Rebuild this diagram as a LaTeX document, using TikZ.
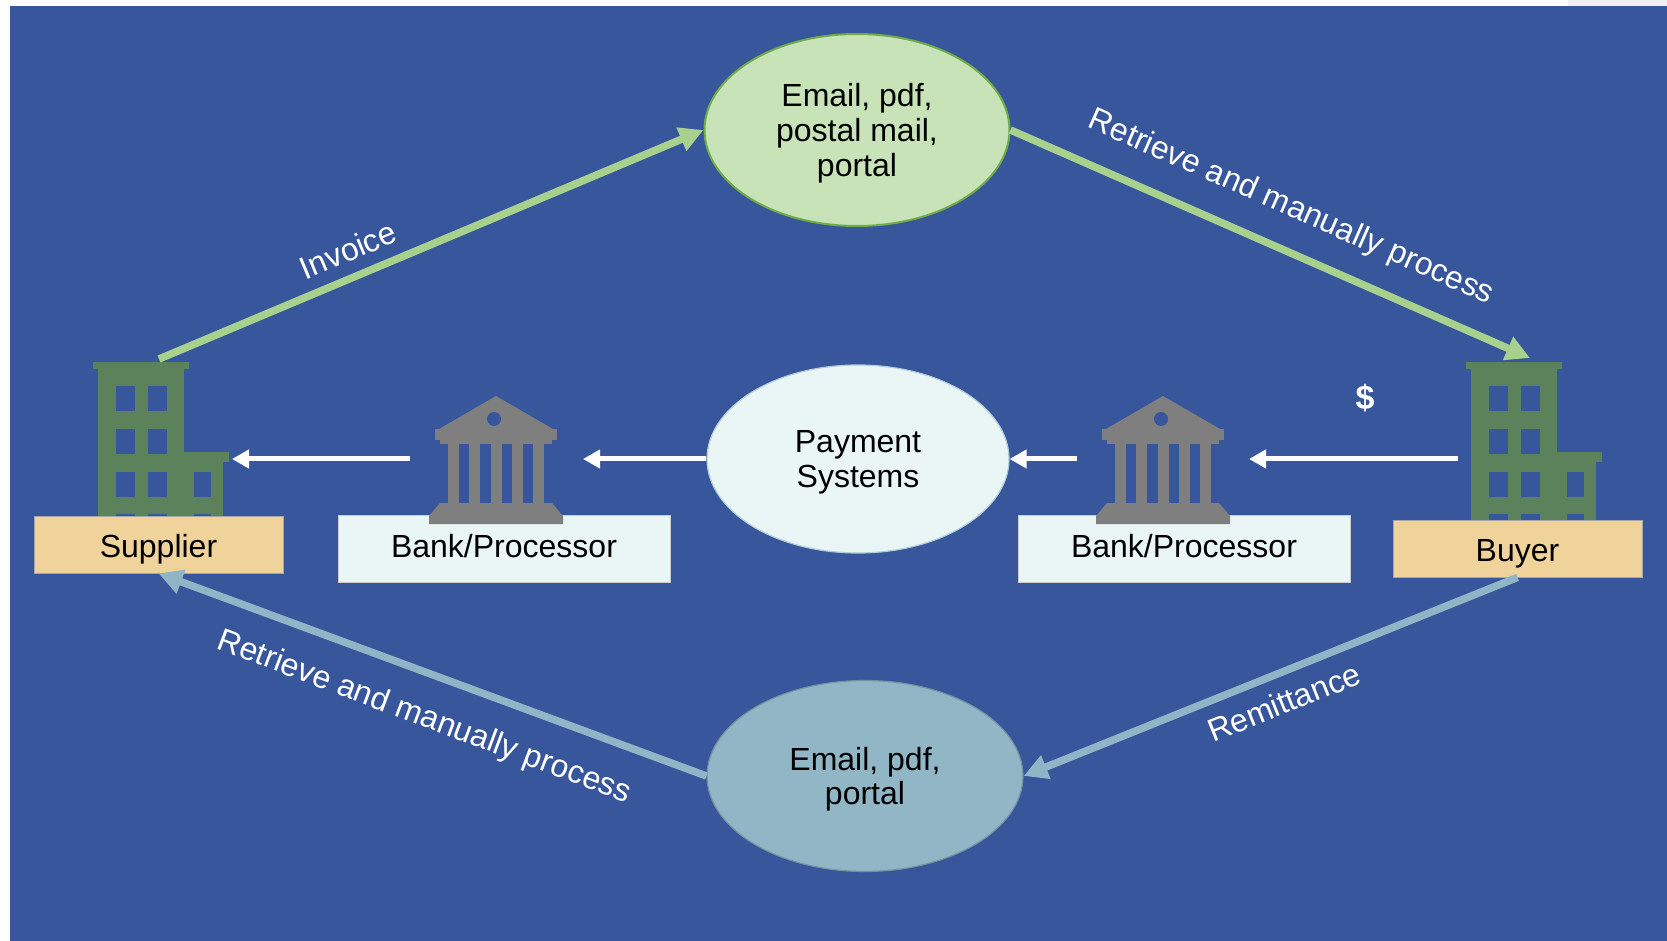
\documentclass[tikz,border=0pt]{standalone}
\usepackage{fontspec}
\setmainfont{Liberation Sans}
\usetikzlibrary{shapes.geometric,arrows.meta}

\definecolor{bgblue}{RGB}{56,86,155}
\definecolor{bldgreen}{RGB}{91,130,90}
\definecolor{boxtan}{RGB}{239,211,155}
\definecolor{paleblue}{RGB}{234,246,245}
\definecolor{mailgreen}{RGB}{201,227,184}
\definecolor{edgegreen}{RGB}{112,173,71}
\definecolor{arrgreen}{RGB}{169,209,142}
\definecolor{arrblue}{RGB}{143,181,199}
\definecolor{mailblue}{RGB}{145,182,198}
\definecolor{bankgray}{RGB}{127,127,127}

\newcommand{\lblfont}{\fontsize{16}{17.3}\selectfont}

% office building: #1 = left edge of tower, #2 = bottom
\newcommand{\bldicon}[2]{%
  \fill[bldgreen] (#1-5,362) rectangle (#1+91,369);
  \fill[bldgreen] (#1,369) rectangle (#1+86,#2);
  \fill[bldgreen] (#1+86,452) rectangle (#1+131,462);
  \fill[bldgreen] (#1+86,462) rectangle (#1+125,#2);
  \foreach \wy in {386,429,472,514} {
    \fill[bgblue] (#1+18,\wy) rectangle +(19,25);
    \fill[bgblue] (#1+50,\wy) rectangle +(19,25);
  }
  \foreach \wy in {472,514}
    \fill[bgblue] (#1+96,\wy) rectangle +(17,25);
}

% bank building: #1 = centre
\newcommand{\bankicon}[1]{%
  \fill[bankgray] (#1,396) -- (#1+57,429) -- (#1-57,429) -- cycle;
  \fill[bankgray] (#1-61,429) rectangle (#1+61,440);
  \fill[bankgray] (#1-56,440) rectangle (#1+56,444);
  \fill[bgblue] (#1-2,419) circle[radius=3.5pt];
  \foreach \k in {-2,...,2}
    \fill[bankgray] (#1+21.25*\k-5.5,444) rectangle (#1+21.25*\k+5.5,503);
  \fill[bankgray] (#1-56,503) -- (#1+56,503) -- (#1+67,516) -- (#1+67,524)
    -- (#1-67,524) -- (#1-67,516) -- cycle;
}

\begin{document}
\begin{tikzpicture}[x=0.5pt, y=-0.5pt, >={Triangle[length=12pt,width=12pt]}]
\tikzstyle{party} = [rectangle, draw=gray!70, line width=0.4pt, fill=boxtan, minimum width=124.5pt, minimum height=28.5pt, inner sep=0pt, text height=15pt, text depth=2.5pt, font=\lblfont]
\tikzstyle{bankbox} = [rectangle, draw=gray!40, line width=0.4pt, fill=paleblue, minimum width=166pt, minimum height=33.5pt, inner sep=0pt, text height=12pt, text depth=3.5pt, font=\lblfont]
\tikzstyle{bubble} = [ellipse, inner sep=0pt, align=center, text depth=0pt, font=\lblfont]
\tikzstyle{edgelabel} = [text=white, inner sep=0pt, font=\lblfont]
\tikzstyle{greenline} = [->, draw=arrgreen, line width=3.75pt]
\tikzstyle{blueline} = [->, draw=arrblue, line width=3.75pt]
\tikzstyle{whiteline} = [-{Triangle[length=8.5pt,width=9pt]}, draw=white, line width=2.5pt]

\useasboundingbox (0,0) rectangle (1667,941);
\fill[white] (0,0) rectangle (1667,941);
\fill[bgblue] (10,6) rectangle (1667,941);
\fill[gray!12] (1568,0) rectangle (1667,6);

\bldicon{98}{516}
\bldicon{1471}{520}

\node (supplier) at (158.5,544.5) [party] {Supplier};
\node (buyer) at (1517.5,548.5) [party] {Buyer};
\node (bankL) at (504,548.5) [bankbox] {Bank/Processor};
\node (bankR) at (1184,548.5) [bankbox] {Bank/Processor};
\node (mailtop) at (857,130) [bubble, draw=edgegreen, line width=1pt, fill=mailgreen, minimum width=152.5pt, minimum height=96pt] {Email, pdf,\\postal mail,\\portal};
\node (pay) at (858,459) [bubble, draw=arrblue!70, line width=0.6pt, fill=paleblue, minimum width=151pt, minimum height=94pt] {Payment\\Systems};
\node (mailbot) at (865,776) [bubble, draw=arrblue!80!black, line width=0.6pt, fill=mailblue, minimum width=158pt, minimum height=95.5pt] {Email, pdf,\\portal};

\bankicon{496}
\bankicon{1163}

\node (dollar) at (1365,398) [text=white, font=\bfseries\fontsize{17}{17}\selectfont] {\$};

\coordinate (suptop) at (159,359);
\coordinate (buytop) at (1530,358);
\coordinate (buyL) at (1458,459);
\coordinate (bankRin) at (1249,459);
\coordinate (bankRout) at (1077,459);
\coordinate (bankLin) at (583,459);
\coordinate (bankLout) at (410,459);
\coordinate (supR) at (232,459);

\draw [greenline] (suptop) -- (mailtop.west);
\draw [greenline] (mailtop.east) -- (buytop);
\draw [blueline] (buyer.south) -- (mailbot.east);
\draw [blueline] (mailbot.west) -- (supplier.south);

\draw [whiteline] (buyL) -- (bankRin);
\draw [whiteline] (bankRout) -- (pay.east);
\draw [whiteline] (pay.west) -- (bankLin);
\draw [whiteline] (bankLout) -- (supR);

\node (invlbl) at (348,250) [edgelabel, rotate=22.7] {Invoice};
\node (retlbl) at (1291,208) [edgelabel, rotate=-23.8] {Retrieve and manually process};
\node (remlbl) at (1284,702) [edgelabel, rotate=21.7] {Remittance};
\node (proclbl) at (424,718) [edgelabel, rotate=-20.6] {Retrieve and manually process};
\end{tikzpicture}
\end{document}
